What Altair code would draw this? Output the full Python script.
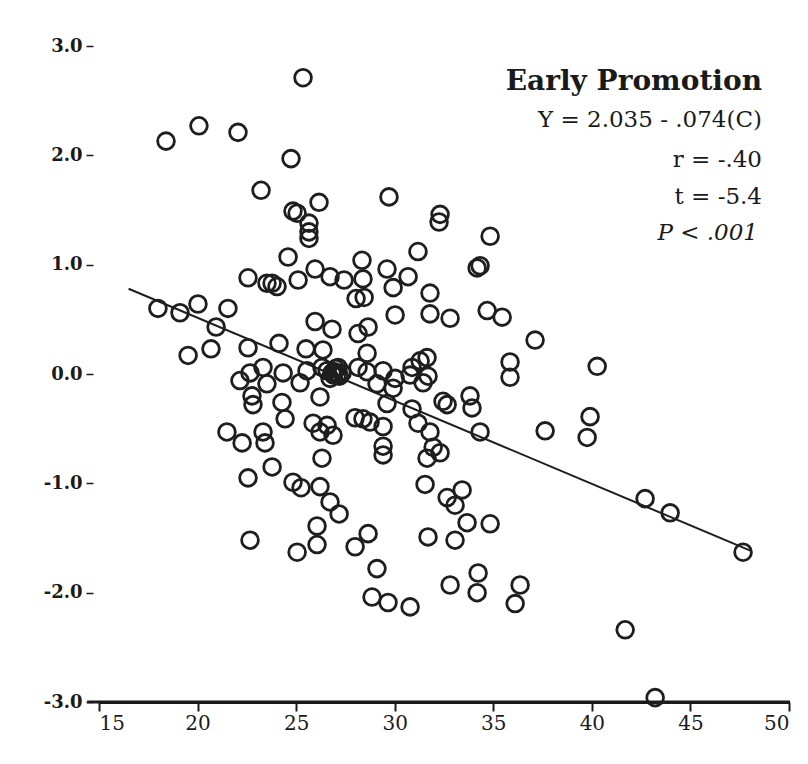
import altair as alt
import pandas as pd

# Career-stage variable (C) and early-promotion residual (Y)
c_values = [25.35,18.40,20.07,22.05,24.74,23.22,29.71,26.16,25.05,24.84,25.65,25.65,25.65,32.30,32.25,34.84,31.18,24.59,34.33,34.18,22.56,23.52,23.78,24.03,25.10,25.96,26.72,27.43,28.34,28.39,29.61,29.92,30.68,28.04,28.45,31.79,31.79,32.81,30.02,34.69,35.45,25.96,26.82,28.14,28.65,
            17.99,19.11,20.02,21.54,20.94,19.52,20.68,22.56,24.13,25.50,26.36,37.12,35.85,35.85,40.27,
            22.15,22.66,23.32,23.52,24.34,25.20,25.55,26.31,26.57,26.82,27.08,27.33,26.72,27.13,28.14,28.60,28.60,29.10,29.41,30.02,30.78,30.88,31.29,31.64,31.44,31.69,
            26.95,27.20,27.00,26.90,
            22.76,22.81,24.28,24.44,26.21,29.61,29.92,30.88,32.45,32.66,33.82,33.92,
            21.49,22.26,23.32,23.42,25.86,26.21,26.87,26.57,27.99,28.39,28.75,29.41,29.41,29.41,31.18,31.79,31.95,32.30,31.64,34.33,37.63,39.91,39.76,
            26.31,23.78,22.56,24.84,25.25,26.21,26.72,27.18,26.06,26.06,25.05,22.66,27.99,28.65,29.10,
            31.54,32.66,33.42,33.06,33.67,34.84,31.69,33.06,32.81,34.23,34.18,36.36,36.11,28.85,29.66,30.78,
            42.70,43.97,47.67,41.69,43.21]
y_values = [2.71,2.13,2.27,2.21,1.97,1.68,1.62,1.57,1.47,1.49,1.38,1.30,1.24,1.46,1.39,1.26,1.12,1.07,0.99,0.97,0.88,0.83,0.83,0.80,0.86,0.96,0.89,0.86,1.04,0.87,0.96,0.79,0.89,0.69,0.70,0.74,0.55,0.51,0.54,0.58,0.52,0.48,0.41,0.37,0.43,
            0.60,0.56,0.64,0.60,0.43,0.17,0.23,0.24,0.28,0.23,0.22,0.31,0.11,-0.03,0.07,
            -0.06,0.01,0.06,-0.09,0.01,-0.08,0.03,0.06,0.03,0.01,-0.01,0.01,-0.04,0.06,0.06,0.19,0.02,-0.09,0.03,-0.04,-0.01,0.06,0.12,0.15,-0.08,-0.02,
            0.02,-0.02,0.05,-0.01,
            -0.20,-0.28,-0.26,-0.41,-0.21,-0.27,-0.13,-0.32,-0.25,-0.28,-0.20,-0.31,
            -0.53,-0.63,-0.53,-0.63,-0.45,-0.53,-0.56,-0.47,-0.40,-0.41,-0.44,-0.48,-0.66,-0.74,-0.45,-0.53,-0.67,-0.72,-0.77,-0.53,-0.52,-0.39,-0.58,
            -0.77,-0.85,-0.95,-0.99,-1.04,-1.03,-1.17,-1.28,-1.39,-1.56,-1.63,-1.52,-1.58,-1.46,-1.78,
            -1.01,-1.13,-1.06,-1.20,-1.36,-1.37,-1.49,-1.52,-1.93,-1.82,-2.00,-1.93,-2.10,-2.04,-2.09,-2.13,
            -1.14,-1.27,-1.63,-2.34,-2.96]

# Fitted regression line endpoints
line_c = [16.5, 48.1]
line_y = [0.78, -1.62]

# Axis ticks
x_ticks = [15, 20, 25, 30, 35, 40, 45, 50]
y_ticks = [3.0, 2.0, 1.0, 0.0, -1.0, -2.0, -3.0]

# Annotation lines
title_text = "Early Promotion"
stat_lines = ["Y = 2.035 - .074(C)", "r = -.40", "t = -5.4"]
p_text = "P < .001"

pts = pd.DataFrame({"C": c_values, "Y": y_values})
ln = pd.DataFrame({"C": line_c, "Y": line_y})
base_axis = pd.DataFrame({"C": [14.4], "C2": [50.05], "Y": [-3.0]})

x_scale = alt.Scale(domain=[15, 50], nice=False, zero=False)
y_scale = alt.Scale(domain=[-3, 3], nice=False, zero=False)

x_axis = alt.Axis(values=x_ticks, title=None, grid=False, domainWidth=3, domainColor="#1a1a1a",
                  tickSize=9, tickWidth=2, tickColor="#1a1a1a", labelFont="DejaVu Serif",
                  labelFontSize=20, labelColor="#1a1a1a", labelPadding=2)
y_axis = alt.Axis(values=y_ticks, title=None, grid=False, domain=False, offset=6,
                  tickSize=7, tickWidth=1.5, tickColor="#1a1a1a",
                  labelExpr="(datum.value < 0 ? '-' : '') + format(abs(datum.value), '.1f')",
                  labelFont="DejaVu Serif", labelFontWeight="bold", labelFontSize=18,
                  labelColor="#1a1a1a", labelPadding=4)

points = alt.Chart(pts).mark_point(shape="circle", filled=False, size=280, strokeWidth=2.8,
                                   color="#1e1e1e", opacity=1).encode(
    x=alt.X("C:Q", scale=x_scale, axis=x_axis),
    y=alt.Y("Y:Q", scale=y_scale, axis=y_axis),
)

reg = alt.Chart(ln).mark_line(color="#1e1e1e", strokeWidth=2).encode(
    x=alt.X("C:Q", scale=x_scale), y=alt.Y("Y:Q", scale=y_scale))

baseline = alt.Chart(base_axis).mark_rule(color="#1a1a1a", strokeWidth=3).encode(
    x=alt.X("C:Q", scale=x_scale), x2="C2:Q", y=alt.Y("Y:Q", scale=y_scale))

title_mark = alt.Chart(pd.DataFrame({"t": [title_text]})).mark_text(
    font="DejaVu Serif", fontWeight="bold", fontSize=28, align="right", baseline="middle",
    color="#1a1a1a").encode(text="t:N", x=alt.value(663), y=alt.value(36))

stats_df = pd.DataFrame({"t": stat_lines, "yy": [74, 114, 151]})
stats_mark = alt.Chart(stats_df).mark_text(
    font="DejaVu Serif", fontSize=23, align="right", baseline="middle", color="#1a1a1a").encode(
    text="t:N", x=alt.value(663), y=alt.Y("yy:Q", scale=None))

p_mark = alt.Chart(pd.DataFrame({"t": [p_text]})).mark_text(
    font="DejaVu Serif", fontStyle="italic", fontSize=23, align="right", baseline="middle",
    color="#1a1a1a").encode(text="t:N", x=alt.value(659), y=alt.value(187))

chart = alt.layer(reg, baseline, points, title_mark, stats_mark, p_mark).properties(
    width=690, height=656,
    autosize=alt.AutoSizeParams(type="none"),
    padding={"left": 91, "top": 38, "right": 10, "bottom": 55},
    background="white",
).configure_view(stroke=None)

chart.save("out.html", embed_options={"renderer": "svg", "actions": False})
